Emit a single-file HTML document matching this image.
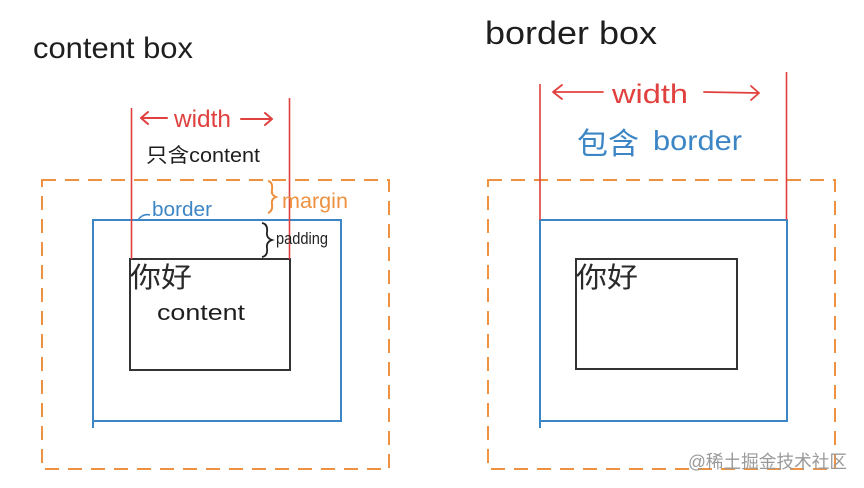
<!DOCTYPE html>
<html>
<head>
<meta charset="utf-8">
<style>
  html, body { margin: 0; padding: 0; background: #ffffff; }
  body { width: 864px; height: 488px; overflow: hidden; }
  svg { display: block; }
  .hand { font-family: "Liberation Sans", "Noto Sans CJK SC", sans-serif; }
</style>
</head>
<body>
<svg width="864" height="488" viewBox="0 0 864 488" xmlns="http://www.w3.org/2000/svg">
  <rect x="0" y="0" width="864" height="488" fill="#ffffff"/>

  <!-- ================= LEFT: content box ================= -->
  <text x="33" y="58" class="hand" font-size="30" fill="#1e1e1e" textLength="160" lengthAdjust="spacingAndGlyphs">content box</text>

  <!-- orange dashed margin box -->
  <rect x="42" y="180" width="347" height="289" fill="none" stroke="#EE9140" stroke-width="2" stroke-dasharray="14 9"/>

  <!-- blue border box -->
  <path d="M93 428 L93 220 L341 220 L341 421 L93 421" fill="none" stroke="#3D86C6" stroke-width="2"/>

  <!-- content box -->
  <rect x="130" y="259" width="160" height="111" fill="none" stroke="#333333" stroke-width="2"/>

  <!-- red width lines -->
  <line x1="131.5" y1="108" x2="131.5" y2="259" stroke="#E0403E" stroke-width="1.6"/>
  <line x1="289.5" y1="98" x2="289.5" y2="259" stroke="#E0403E" stroke-width="1.6"/>

  <!-- width arrows -->
  <path d="M167 118 L141 118 M148 112 L141 118 L148 124" fill="none" stroke="#E0403E" stroke-width="2" stroke-linecap="round" stroke-linejoin="round"/>
  <path d="M241 119 L272 119 M265 113 L272 119 L265 125" fill="none" stroke="#E0403E" stroke-width="2" stroke-linecap="round" stroke-linejoin="round"/>
  <text x="174" y="127" class="hand" font-size="24" fill="#E0403E" textLength="57" lengthAdjust="spacingAndGlyphs">width</text>

  <!-- 只含content -->
  <text x="146" y="162" class="hand" font-size="20" fill="#1e1e1e" textLength="114" lengthAdjust="spacingAndGlyphs">只含content</text>

  <!-- border label -->
  <path d="M138 220 Q143 213 150 215" fill="none" stroke="#3D86C6" stroke-width="1.5"/>
  <text x="152" y="216" class="hand" font-size="20" fill="#3D86C6" textLength="60" lengthAdjust="spacingAndGlyphs">border</text>

  <!-- margin brace + label -->
  <path d="M268 181 Q273 182 272 190 Q271 195 276 197 Q271 199 272 204 Q273 211 268 213" fill="none" stroke="#EE9140" stroke-width="2"/>
  <text x="282" y="208" class="hand" font-size="21" fill="#EE9140" textLength="66" lengthAdjust="spacingAndGlyphs">margin</text>

  <!-- padding brace + label -->
  <path d="M262 223 Q268 224 267 232 Q266 238 272 240 Q266 242 267 248 Q268 256 262 257" fill="none" stroke="#222" stroke-width="1.8"/>
  <text x="276" y="244" class="hand" font-size="17" fill="#222" textLength="52" lengthAdjust="spacingAndGlyphs">padding</text>

  <!-- content text -->
  <text x="130" y="287" class="hand" font-size="28" fill="#2a2a2a" textLength="62" lengthAdjust="spacingAndGlyphs">你好</text>
  <text x="157" y="320" class="hand" font-size="22" fill="#1e1e1e" textLength="88" lengthAdjust="spacingAndGlyphs">content</text>

  <!-- ================= RIGHT: border box ================= -->
  <text x="485" y="44" class="hand" font-size="32" fill="#1e1e1e" textLength="172" lengthAdjust="spacingAndGlyphs">border box</text>

  <!-- orange dashed margin box -->
  <rect x="488" y="180" width="347" height="289" fill="none" stroke="#EE9140" stroke-width="2" stroke-dasharray="14 9"/>

  <!-- blue border box -->
  <path d="M540 428 L540 220 L787 220 L787 421 L540 421" fill="none" stroke="#3D86C6" stroke-width="2"/>

  <!-- content box -->
  <rect x="576" y="259" width="161" height="110" fill="none" stroke="#333333" stroke-width="2"/>

  <!-- red width lines -->
  <line x1="540" y1="84" x2="540" y2="220" stroke="#E0403E" stroke-width="1.6"/>
  <line x1="786.5" y1="72" x2="786.5" y2="220" stroke="#E0403E" stroke-width="1.6"/>

  <!-- width arrows -->
  <path d="M603 92 L553 92 M562 85 L553 92 L562 99" fill="none" stroke="#E0403E" stroke-width="1.8" stroke-linecap="round" stroke-linejoin="round"/>
  <path d="M704 92 L759 93 M751 86 L759 93 L751 100" fill="none" stroke="#E0403E" stroke-width="1.8" stroke-linecap="round" stroke-linejoin="round"/>
  <text x="612" y="103" class="hand" font-size="27" fill="#E0403E" textLength="76" lengthAdjust="spacingAndGlyphs">width</text>

  <!-- 包含 border -->
  <text x="577" y="154" class="hand" font-size="30" fill="#3D86C6" textLength="62" lengthAdjust="spacingAndGlyphs">包含</text>
  <text x="653" y="150" class="hand" font-size="28" fill="#3D86C6" textLength="89" lengthAdjust="spacingAndGlyphs">border</text>

  <!-- content text -->
  <text x="576" y="287" class="hand" font-size="28" fill="#2a2a2a" textLength="62" lengthAdjust="spacingAndGlyphs">你好</text>

  <!-- watermark -->
  <text x="688" y="468" font-family="Liberation Sans, Noto Sans CJK SC, sans-serif" font-size="18" fill="#9a9a9a" textLength="159" lengthAdjust="spacingAndGlyphs">@稀土掘金技术社区</text>
</svg>
</body>
</html>
